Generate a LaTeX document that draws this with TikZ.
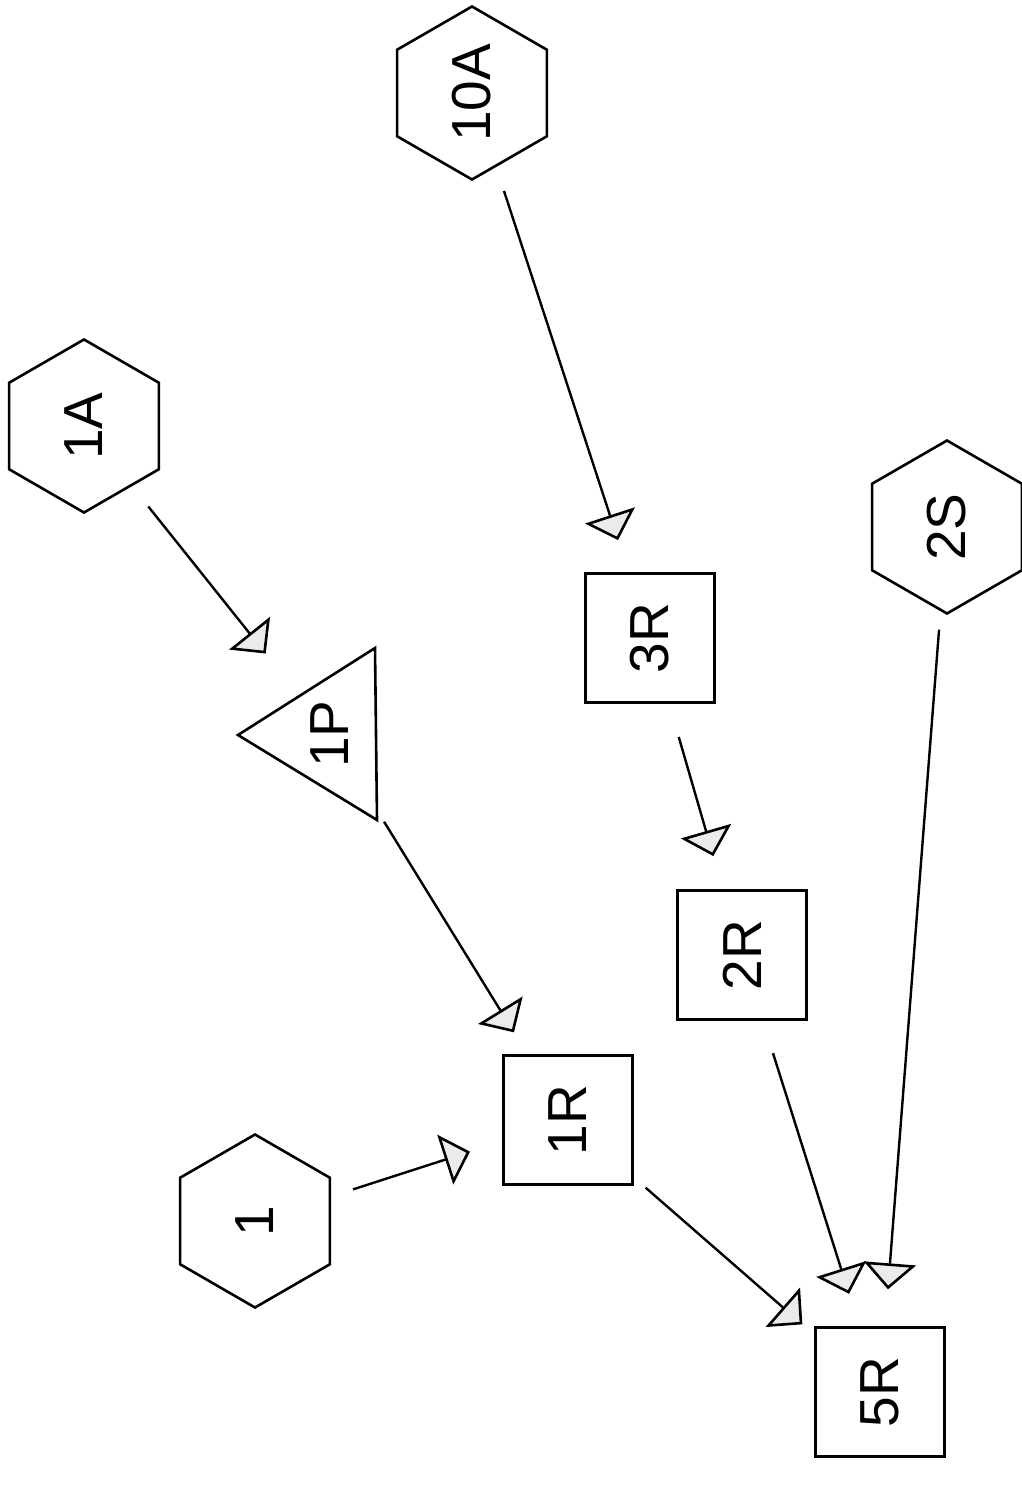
\documentclass[tikz,border=0pt]{standalone}
\usepackage{fontspec}
\setmainfont{Liberation Sans}
\usetikzlibrary{arrows.meta,shapes.geometric}
\begin{document}
\begin{tikzpicture}[x=1pt,y=-1pt,
  every node/.style={inner sep=0pt, font=\fontsize{55}{60}\selectfont},
  hexnode/.style={draw, line width=2.6pt, regular polygon, regular polygon sides=6,
                  shape border rotate=30, minimum size=173pt},
  boxnode/.style={draw, line width=2.6pt, rectangle, minimum size=129pt},
  link/.style={line width=2.4pt,
               -{Triangle[length=26pt,width=52pt,fill=black!8,line width=2.6pt]},
               shorten <=103pt, shorten >=103pt}]
  \useasboundingbox (0,0) rectangle (1021,1491);

  % source hexagons
  \node[hexnode] (n10A) at (472,93)   {\rotatebox{90}{10A}};
  \node[hexnode] (n1A)  at (84,426)   {\rotatebox{90}{1A}};
  \node[hexnode] (n2S)  at (947,527)  {\rotatebox{90}{2S}};
  \node[hexnode] (n1)   at (255,1221) {\rotatebox{90}{1}};

  % triangle node 1P
  \draw[line width=2.6pt, line join=miter] (238,735) -- (375,648) -- (377,820) -- cycle;
  \node (n1P) at (330,734) {\rotatebox{90}{1P}};

  % reaction boxes
  \node[boxnode] (n3R) at (650,638)  {\rotatebox{90}{3R}};
  \node[boxnode] (n2R) at (742,955)  {\rotatebox{90}{2R}};
  \node[boxnode] (n1R) at (568,1120) {\rotatebox{90}{1R}};
  \node[boxnode] (n5R) at (880,1392) {\rotatebox{90}{5R}};

  % connectors, centre to centre with fixed gaps
  \draw[link] (n10A.center) -- (n3R.center);
  \draw[link] (n1A.center)  -- (n1P.center);
  \draw[link] (n1P.center)  -- (n1R.center);
  \draw[link] (n3R.center)  -- (n2R.center);
  \draw[link] (n2R.center)  -- (n5R.center);
  \draw[link] (n2S.center)  -- (n5R.center);
  \draw[link] (n1R.center)  -- (n5R.center);
  \draw[link] (n1.center)   -- (n1R.center);
\end{tikzpicture}
\end{document}
